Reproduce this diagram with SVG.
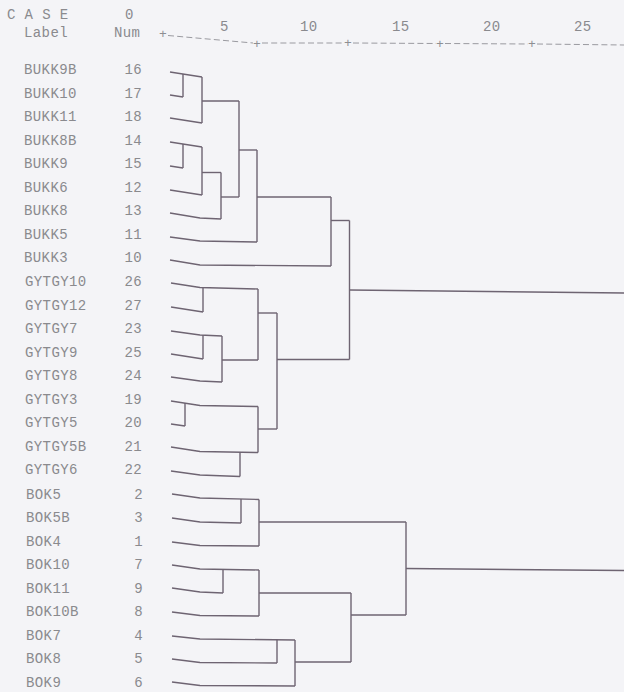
<svg xmlns="http://www.w3.org/2000/svg" width="624" height="692" viewBox="0 0 624 692">
<style>
  .t { font-family: "Liberation Mono", "DejaVu Sans Mono", monospace; font-size: 14px; fill: #8a8a8e; letter-spacing: 0.4px; }
  .n { text-anchor: end; }
  .ax { font-family: "Liberation Mono", "DejaVu Sans Mono", monospace; font-size: 13px; fill: #8e8e92; text-anchor: middle; }
  .dash { stroke: #9a9aa0; stroke-width: 1; stroke-dasharray: 6 3.2; fill: none; }
  .ln { fill: none; stroke: #6e6472; stroke-width: 1.4; stroke-linejoin: miter; }
</style>
<rect x="0" y="0" width="624" height="692" fill="#f4f4f7"/>

<g id="header">
  <text class="t" x="7" y="19">C A S E</text>
  <text class="t" x="125" y="19">0</text>
  <text class="t" x="24" y="37">Label</text>
  <text class="t" x="114" y="37">Num</text>
  <text class="t" x="220" y="31">5</text>
  <text class="t" x="300" y="31">10</text>
  <text class="t" x="392" y="31">15</text>
  <text class="t" x="483" y="31">20</text>
  <text class="t" x="574" y="31">25</text>
</g>

<g id="axis">
  <line class="dash" x1="168" y1="35.5" x2="253" y2="43"/>
  <line class="dash" x1="262" y1="43" x2="344" y2="43"/>
  <line class="dash" x1="353" y1="43" x2="436" y2="43.5"/>
  <line class="dash" x1="445" y1="43.5" x2="528" y2="44"/>
  <line class="dash" x1="537" y1="44" x2="624" y2="45"/>
  <text class="ax" x="163" y="38">+</text>
  <text class="ax" x="257" y="47.5">+</text>
  <text class="ax" x="348" y="47">+</text>
  <text class="ax" x="440" y="47.5">+</text>
  <text class="ax" x="532" y="48">+</text>
</g>

<g id="case-16"><text class="t" x="24" y="74">BUKK9B</text><text class="t n" x="142" y="74">16</text></g>
<g id="case-17"><text class="t" x="24" y="97.5">BUKK10</text><text class="t n" x="142" y="97.5">17</text></g>
<g id="case-18"><text class="t" x="24" y="121">BUKK11</text><text class="t n" x="142" y="121">18</text></g>
<g id="case-14"><text class="t" x="24" y="144.5">BUKK8B</text><text class="t n" x="142" y="144.5">14</text></g>
<g id="case-15"><text class="t" x="24" y="168">BUKK9</text><text class="t n" x="142" y="168">15</text></g>
<g id="case-12"><text class="t" x="24" y="191.5">BUKK6</text><text class="t n" x="142" y="191.5">12</text></g>
<g id="case-13"><text class="t" x="24" y="215">BUKK8</text><text class="t n" x="142" y="215">13</text></g>
<g id="case-11"><text class="t" x="24" y="238.5">BUKK5</text><text class="t n" x="142" y="238.5">11</text></g>
<g id="case-10"><text class="t" x="24" y="262">BUKK3</text><text class="t n" x="142" y="262">10</text></g>
<g id="case-26"><text class="t" x="25" y="286">GYTGY10</text><text class="t n" x="142" y="286">26</text></g>
<g id="case-27"><text class="t" x="25" y="309.5">GYTGY12</text><text class="t n" x="142" y="309.5">27</text></g>
<g id="case-23"><text class="t" x="25" y="333">GYTGY7</text><text class="t n" x="142" y="333">23</text></g>
<g id="case-25"><text class="t" x="25" y="356.5">GYTGY9</text><text class="t n" x="142" y="356.5">25</text></g>
<g id="case-24"><text class="t" x="25" y="380">GYTGY8</text><text class="t n" x="142" y="380">24</text></g>
<g id="case-19"><text class="t" x="25" y="403.5">GYTGY3</text><text class="t n" x="142" y="403.5">19</text></g>
<g id="case-20"><text class="t" x="25" y="427">GYTGY5</text><text class="t n" x="142" y="427">20</text></g>
<g id="case-21"><text class="t" x="25" y="450.5">GYTGY5B</text><text class="t n" x="142" y="450.5">21</text></g>
<g id="case-22"><text class="t" x="25" y="474">GYTGY6</text><text class="t n" x="142" y="474">22</text></g>
<g id="case-2"><text class="t" x="26" y="498.5">BOK5</text><text class="t n" x="143" y="498.5">2</text></g>
<g id="case-3"><text class="t" x="26" y="522">BOK5B</text><text class="t n" x="143" y="522">3</text></g>
<g id="case-1"><text class="t" x="26" y="545.5">BOK4</text><text class="t n" x="143" y="545.5">1</text></g>
<g id="case-7"><text class="t" x="26" y="569">BOK10</text><text class="t n" x="143" y="569">7</text></g>
<g id="case-9"><text class="t" x="26" y="592.5">BOK11</text><text class="t n" x="143" y="592.5">9</text></g>
<g id="case-8"><text class="t" x="26" y="616">BOK10B</text><text class="t n" x="143" y="616">8</text></g>
<g id="case-4"><text class="t" x="26" y="639.5">BOK7</text><text class="t n" x="143" y="639.5">4</text></g>
<g id="case-5"><text class="t" x="26" y="663">BOK8</text><text class="t n" x="143" y="663">5</text></g>
<g id="case-6"><text class="t" x="26" y="686.5">BOK9</text><text class="t n" x="143" y="686.5">6</text></g>

<g id="connectors" class="ln">
  <!-- BUKK cluster -->
  <path d="M170 72 L202 77"/>
  <path d="M170 95 L183 97"/>
  <path d="M183 74 V97"/>
  <path d="M202 77 V123"/>
  <path d="M170 118 L202 123"/>
  <path d="M202 101 H239"/>
  <path d="M239 101 V197"/>
  <path d="M170 142 L202 147"/>
  <path d="M170 166 L183 168"/>
  <path d="M183 144 V168"/>
  <path d="M202 147 V195"/>
  <path d="M170 190 L202 195"/>
  <path d="M202 172.5 H221"/>
  <path d="M221 172.5 V219"/>
  <path d="M170 213 L200 218 L221 219"/>
  <path d="M221 197 H239"/>
  <path d="M239 150 H257"/>
  <path d="M257 150 V242"/>
  <path d="M170 237 L200 241 L257 242"/>
  <path d="M257 197 H331"/>
  <path d="M331 197 V266"/>
  <path d="M170 260 L200 265 L331 266"/>
  <path d="M331 220.5 H349.5"/>
  <path d="M349.5 220.5 V359.5"/>
  <path d="M349.5 290 L624 293"/>
  <!-- GYTGY cluster -->
  <path d="M171 283 L200 287.5 L258 289"/>
  <path d="M171 307 L203 312"/>
  <path d="M203 288 V312"/>
  <path d="M258 289 V360"/>
  <path d="M171 331 L200 335 L222 336"/>
  <path d="M171 354 L203 359"/>
  <path d="M203 335 V359"/>
  <path d="M222 336 V382"/>
  <path d="M171 377 L200 381 L222 382"/>
  <path d="M222 360 H258"/>
  <path d="M258 313 H277"/>
  <path d="M277 313 V429"/>
  <path d="M171 401 L200 405.5 L258 406.5"/>
  <path d="M171 424 L185 426"/>
  <path d="M185 403 V426"/>
  <path d="M258 406.5 V452.5"/>
  <path d="M171 447 L200 451.5 L258 452.5"/>
  <path d="M171 471 L200 475 L240 476.5"/>
  <path d="M240 452 V476.5"/>
  <path d="M258 429 H277"/>
  <path d="M277 359.5 H349.5"/>
  <!-- BOK cluster -->
  <path d="M172 494 L200 498 L259 499.5"/>
  <path d="M172 518 L200 522 L241 523"/>
  <path d="M241 499 V523"/>
  <path d="M259 499.5 V546"/>
  <path d="M172 542 L200 545.5 L259 546"/>
  <path d="M259 522 H406"/>
  <path d="M406 522 V615"/>
  <path d="M172 565 L200 569 L259 570"/>
  <path d="M172 588 L200 592 L223 593"/>
  <path d="M223 569 V593"/>
  <path d="M259 570 V616"/>
  <path d="M172 612 L200 615.5 L259 616"/>
  <path d="M259 593 H351"/>
  <path d="M351 593 V662"/>
  <path d="M172 636 L200 639 L295 640"/>
  <path d="M172 659 L200 662.5 L277 663"/>
  <path d="M277 639.5 V663"/>
  <path d="M295 640 V686"/>
  <path d="M172 682 L200 685.5 L295 686"/>
  <path d="M295 662 H351"/>
  <path d="M351 615 H406"/>
  <path d="M406 568.5 L624 570.5"/>
</g>
</svg>
